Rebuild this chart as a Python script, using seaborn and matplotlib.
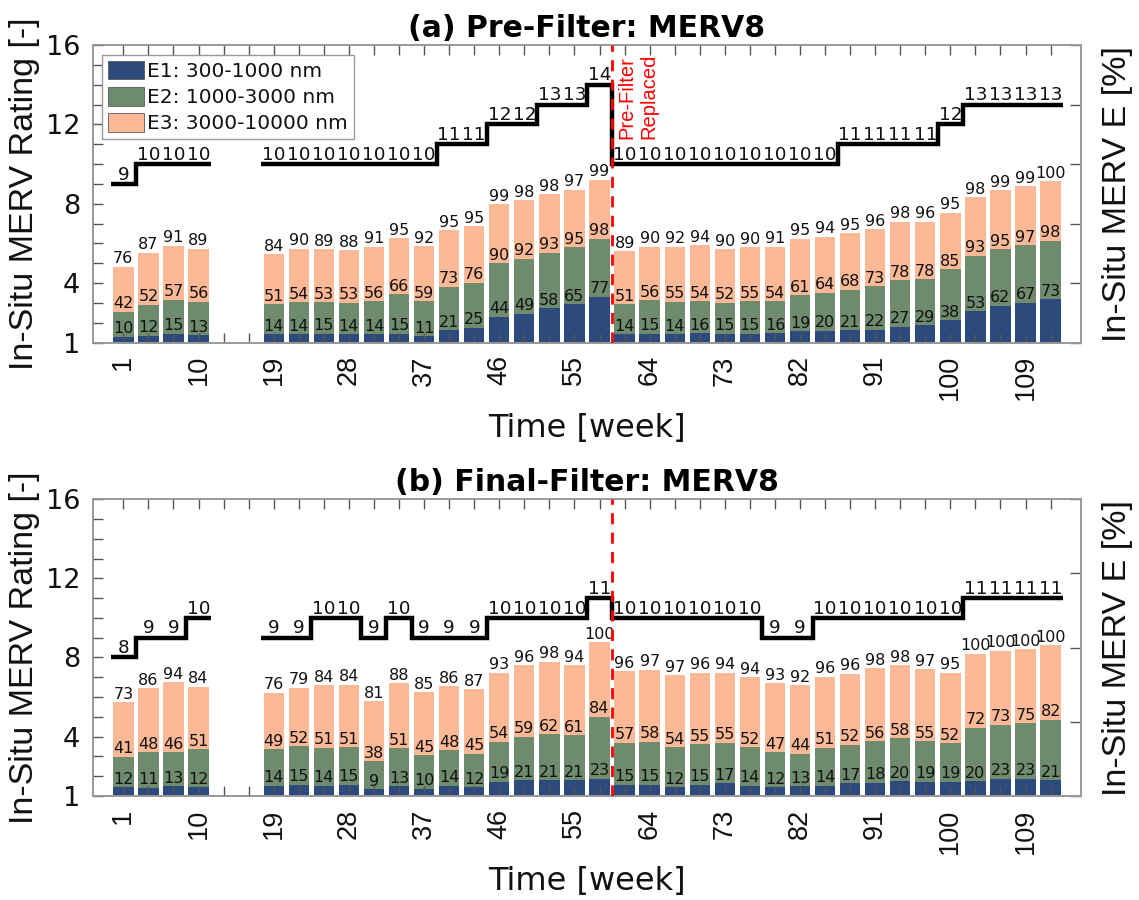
import numpy as np
import pandas as pd
import matplotlib
matplotlib.use("Agg")
import matplotlib.pyplot as plt
import seaborn as sns
from matplotlib.patches import Patch

# ---------------- data ----------------
weeks_g1 = [1, 4, 7, 10]
weeks_g2 = [19, 22, 25, 28, 31, 34, 37, 40, 43, 46, 49, 52, 55, 58,
            61, 64, 67, 70, 73, 76, 79, 82, 85, 88, 91, 94, 97, 100, 103, 106, 109, 112]
weeks = weeks_g1 + weeks_g2

# Panel (a) Pre-Filter
a_E1 = [10, 12, 15, 13,
        14, 14, 15, 14, 14, 15, 11, 21, 25, 44, 49, 58, 65, 77,
        14, 15, 14, 16, 15, 15, 16, 19, 20, 21, 22, 27, 29, 38, 53, 62, 67, 73]
a_E2 = [42, 52, 57, 56,
        51, 54, 53, 53, 56, 66, 59, 73, 76, 90, 92, 93, 95, 98,
        51, 56, 55, 54, 52, 55, 54, 61, 64, 68, 73, 78, 78, 85, 93, 95, 97, 98]
a_E3 = [76, 87, 91, 89,
        84, 90, 89, 88, 91, 95, 92, 95, 95, 99, 98, 98, 97, 99,
        89, 90, 92, 94, 90, 90, 91, 95, 94, 95, 96, 98, 96, 95, 98, 99, 99, 100]
a_MERV = [9, 10, 10, 10,
          10, 10, 10, 10, 10, 10, 10, 11, 11, 12, 12, 13, 13, 14,
          10, 10, 10, 10, 10, 10, 10, 10, 10, 11, 11, 11, 11, 12, 13, 13, 13, 13]

# Panel (b) Final-Filter
b_E1 = [12, 11, 13, 12,
        14, 15, 14, 15, 9, 13, 10, 14, 12, 19, 21, 21, 21, 23,
        15, 15, 12, 15, 17, 14, 12, 13, 14, 17, 18, 20, 19, 19, 20, 23, 23, 21]
b_E2 = [41, 48, 46, 51,
        49, 52, 51, 51, 38, 51, 45, 48, 45, 54, 59, 62, 61, 84,
        57, 58, 54, 55, 55, 52, 47, 44, 51, 52, 56, 58, 55, 52, 72, 73, 75, 82]
b_E3 = [73, 86, 94, 84,
        76, 79, 84, 84, 81, 88, 85, 86, 87, 93, 96, 98, 94, 100,
        96, 97, 97, 96, 94, 94, 93, 92, 96, 96, 98, 98, 97, 95, 100, 100, 100, 100]
b_MERV = [8, 9, 9, 10,
          9, 9, 10, 10, 9, 10, 9, 9, 9, 10, 10, 10, 10, 11,
          10, 10, 10, 10, 10, 10, 9, 9, 10, 10, 10, 10, 10, 10, 11, 11, 11, 11]

xtick_major = [1, 10, 19, 28, 37, 46, 55, 64, 73, 82, 91, 100, 109]
xtick_minor = list(range(1, 113, 3))
series_labels = ["E1: 300-1000 nm", "E2: 1000-3000 nm", "E3: 3000-10000 nm"]
titles = ["(a) Pre-Filter: MERV8", "(b) Final-Filter: MERV8"]
right_max = [500, 400]
replace_week = 59.5

# ---------------- style ----------------
C1, C2, C3 = "#2d4a7c", "#6f8b6e", "#fdb896"
colors = [C1, C2, C3]
sns.set_theme(style="white")
plt.rcParams["font.family"] = ["DejaVu Sans"]
HFONT = ["DejaVu Sans"]          # horizontal texts
VFONT = ["Liberation Sans", "DejaVu Sans"]  # rotated texts
TXT = "#111111"
SPINE = "#999999"
TICKC = "#555555"

fig = plt.figure(figsize=(11.39, 9.0), dpi=100)
positions = [[0.0819, 0.6192, 0.8669, 0.3308], [0.0819, 0.1156, 0.8669, 0.3297]]
panels = [(a_E1, a_E2, a_E3, a_MERV), (b_E1, b_E2, b_E3, b_MERV)]

for p, (E1, E2, E3, MERV) in enumerate(panels):
    ax = fig.add_axes(positions[p])
    axr = ax.twinx()
    E1 = np.array(E1); E2 = np.array(E2); E3 = np.array(E3)
    c1 = E1; c2 = E1 + E2; c3 = E1 + E2 + E3

    # stacked bars on the right (percent) axis
    for cum, col in [(c3, C3), (c2, C2), (c1, C1)]:
        df = pd.DataFrame({"week": weeks, "val": cum})
        sns.barplot(data=df, x="week", y="val", native_scale=True, color=col,
                    saturation=1, width=0.81, errorbar=None, ax=axr,
                    edgecolor="none", linewidth=0)
    axr.set_ylim(0, right_max[p])
    axr.set_yticks(np.arange(0, right_max[p] + 1, 100))
    axr.set_yticklabels([])
    axr.set_ylabel("In-Situ MERV E [%]", fontsize=24.5, color=TXT, labelpad=12,
                   family=VFONT)
    axr.set_xlabel("")

    # value labels on bars
    for w, v1, v2, v3, t1, t2, t3 in zip(weeks, c1, c2, c3, E1, E2, E3):
        for cv, tv in [(v1, t1), (v2, t2), (v3, t3)]:
            axr.annotate(str(tv), (w, cv), xytext=(0, 0.3), textcoords="offset points",
                         ha="center", va="bottom", fontsize=11.5, color=TXT,
                         family=HFONT)

    # MERV step lines on the left axis
    n1 = len(weeks_g1)
    groups = [(weeks_g1, MERV[:n1]), (weeks_g2, MERV[n1:])]
    for wg, mg in groups:
        edges = [wg[0] - 1.5] + [w + 1.5 for w in wg]
        ax.stairs(mg, edges, baseline=None, color="black", lw=3.2, zorder=3)
    for w, m in zip(weeks, MERV):
        ax.annotate(str(m), (w, m), xytext=(0, 0.3), textcoords="offset points",
                    ha="center", va="bottom", fontsize=13.2, color=TXT, zorder=4,
                    family=HFONT)

    ax.axvline(replace_week, color="red", ls=(0, (4, 3)), lw=2, zorder=5)
    if p == 0:
        ax.text(60.1, 15.55, "Pre-Filter\nReplaced", rotation=90, color="red",
                fontsize=14.5, ha="left", va="top", linespacing=1.25,
                family=VFONT)

    # axes setup
    ax.set_zorder(axr.get_zorder() + 1)
    ax.patch.set_visible(False)
    ax.set_xlim(-2.6, 115.6)
    axr.set_xlim(-2.6, 115.6)
    ax.set_ylim(1, 16)
    ax.set_yticks([1, 4, 8, 12, 16])
    ax.set_yticks(range(1, 17), minor=True)
    ax.set_xticks(xtick_major)
    ax.set_xticklabels([str(t) for t in xtick_major], rotation=90, family=VFONT)
    ax.set_xticks(xtick_minor, minor=True)
    ax.tick_params(axis="x", which="both", direction="in", length=7, width=1,
                   color=TICKC, top=True, bottom=True, labelsize=19.5,
                   labelcolor=TXT, pad=9)
    ax.tick_params(axis="y", which="both", direction="in", length=7, width=1,
                   color=TICKC, left=True, right=False, labelsize=19.5,
                   labelcolor=TXT, pad=9.5)
    axr.tick_params(axis="y", which="both", direction="in", length=8, width=1,
                    color=TICKC, right=True, left=False)
    ax.set_ylabel("In-Situ MERV Rating [-]", fontsize=24.5, color=TXT, labelpad=4,
                  family=VFONT)
    ax.set_xlabel("Time [week]", fontsize=23, color=TXT, labelpad=9, family=HFONT)
    ax.set_title(titles[p], fontsize=21.5, fontweight="bold", color="black", pad=6,
                 family=HFONT)
    for a in (ax, axr):
        for s in a.spines.values():
            s.set_color(SPINE)
            s.set_linewidth(1.2)
            s.set_visible(True)
    ax.grid(False); axr.grid(False)

    if p == 0:
        handles = [Patch(facecolor=c, edgecolor="#5a5a5a", lw=0.6) for c in colors]
        leg = ax.legend(handles, series_labels, loc="upper left",
                        bbox_to_anchor=(0.0088, 0.9664), frameon=True,
                        prop={"family": HFONT, "size": 14.5},
                        fancybox=False, edgecolor="#999999", framealpha=1,
                        handlelength=1.8, handleheight=1.03, borderpad=0.3,
                        labelspacing=0.3, handletextpad=0.15, borderaxespad=0)
        leg.get_frame().set_linewidth(1.0)
        for t in leg.get_texts():
            t.set_color(TXT)

fig.savefig("out.png", dpi=100)
